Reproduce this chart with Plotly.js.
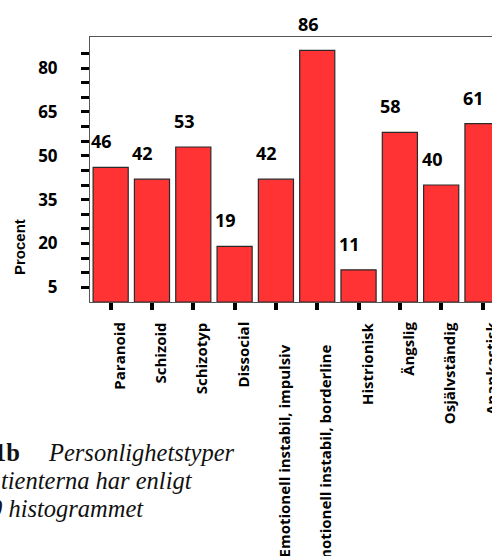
<!DOCTYPE html>
<html>
<head>
<meta charset="utf-8">
<script src="https://cdn.plot.ly/plotly-3.0.1.min.js"></script>
<style>html,body{margin:0;padding:0;background:#fff;}#chart{width:492px;height:556px;}</style>
</head>
<body>
<div id="chart"></div>
<script>
// ---- data ----
const categories = ["Paranoid", "Schizoid", "Schizotyp", "Dissocial",
  "Emotionell instabil, impulsiv", "Emotionell instabil, borderline",
  "Histrionisk", "Ängslig", "Osjälvständig", "Anankastisk"];
const percentValues = [46, 42, 53, 19, 42, 86, 11, 58, 40, 61];
const yTickValues = [5, 20, 35, 50, 65, 80];
const yTickLabels = ["5", "20", "35", "50", "65", "80"];
const yMinorTickValues = [10, 15, 25, 30, 40, 45, 55, 60, 70, 75, 85];
const yAxisTitle = "Procent";
const captionLine1Bold = "1b";
const captionLine1 = "Personlighetstyper";
const captionLine2 = "tienterna har enligt";
const captionLine3 = "0 histogrammet";

// ---- layout helpers (pixel offsets relative to plot origin) ----
const PLOT_L = 90, PLOT_B = 302;
const sansBold = {family: "Open Sans", size: 18, color: "#000", weight: 700};
const tickFont = {family: "Open Sans", size: 15, color: "#000", weight: 700};

const barLabels = categories.map((c, i) => ({
  x: c, y: percentValues[i], xref: "x", yref: "y",
  text: String(percentValues[i]), showarrow: false,
  xanchor: "center", yanchor: "middle", xshift: -9, yshift: 26,
  font: sansBold
}));

// category labels (rotated), drawn like the scanned original: a bit right of the tick,
// long two-part labels start lower
const catLabels = categories.map((c) => ({
  x: c, y: 0, xref: "x", yref: "paper",
  text: c, showarrow: false, textangle: -90,
  xanchor: "center", yanchor: "top", borderpad: 0,
  xshift: 8, yshift: c.length > 20 ? -41 : -19,
  font: tickFont
}));

function pxAnn(text, px, py, xanchor, font, extra) {
  return Object.assign({
    xref: "paper", yref: "paper", x: 0, y: 0,
    xshift: px - PLOT_L, yshift: PLOT_B - py,
    xanchor: xanchor, yanchor: "middle",
    text: text, showarrow: false, font: font, borderpad: 0
  }, extra || {});
}

const serif = {family: "Liberation Serif", size: 24.5, color: "#111"};
const otherAnns = [
  pxAnn(yAxisTitle, 19, 247, "center", {family: "Liberation Sans", size: 15, color: "#000", weight: 700}, {textangle: -90}),
  pxAnn("<b>" + captionLine1Bold + "</b>", 21, 452, "right", serif),
  pxAnn("<i>" + captionLine1 + "</i>", 47, 452, "left", serif),
  pxAnn("<i>" + captionLine2 + "</i>", 0, 480, "left", serif),
  pxAnn("<i>" + captionLine3 + "</i>", -11, 508, "left", serif)
];

const trace = {
  type: "bar",
  x: categories,
  y: percentValues,
  marker: {color: "#ff3333", line: {color: "#2a2a2a", width: 1.2}},
  hoverinfo: "x+y"
};

const layout = {
  width: 492, height: 556,
  margin: {l: 90, r: 0, t: 37, b: 254, pad: 0},
  paper_bgcolor: "#fff", plot_bgcolor: "#fff",
  showlegend: false,
  bargap: 0.15,
  xaxis: {
    type: "category",
    range: [-0.5, 9.23],
    showgrid: false, zeroline: false,
    showline: true, mirror: true, linecolor: "#555", linewidth: 1,
    ticks: "outside", ticklen: 7, tickwidth: 4, tickcolor: "#000",
    showticklabels: false
  },
  yaxis: {
    range: [0, 90.6],
    showgrid: false, zeroline: false,
    showline: true, mirror: true, linecolor: "#555", linewidth: 1,
    tickmode: "array", tickvals: yTickValues, ticktext: yTickLabels,
    ticks: "outside", ticklen: 8, tickwidth: 3, tickcolor: "#000",
    ticklabelstandoff: 20,
    tickfont: {family: "Open Sans", size: 17, color: "#000", weight: 700},
    minor: {tickmode: "array", tickvals: yMinorTickValues, ticks: "outside", ticklen: 8, tickwidth: 3, tickcolor: "#000", showgrid: false}
  },
  annotations: barLabels.concat(catLabels, otherAnns)
};

Plotly.newPlot("chart", [trace], layout, {displayModeBar: false, staticPlot: true});
</script>
</body>
</html>
